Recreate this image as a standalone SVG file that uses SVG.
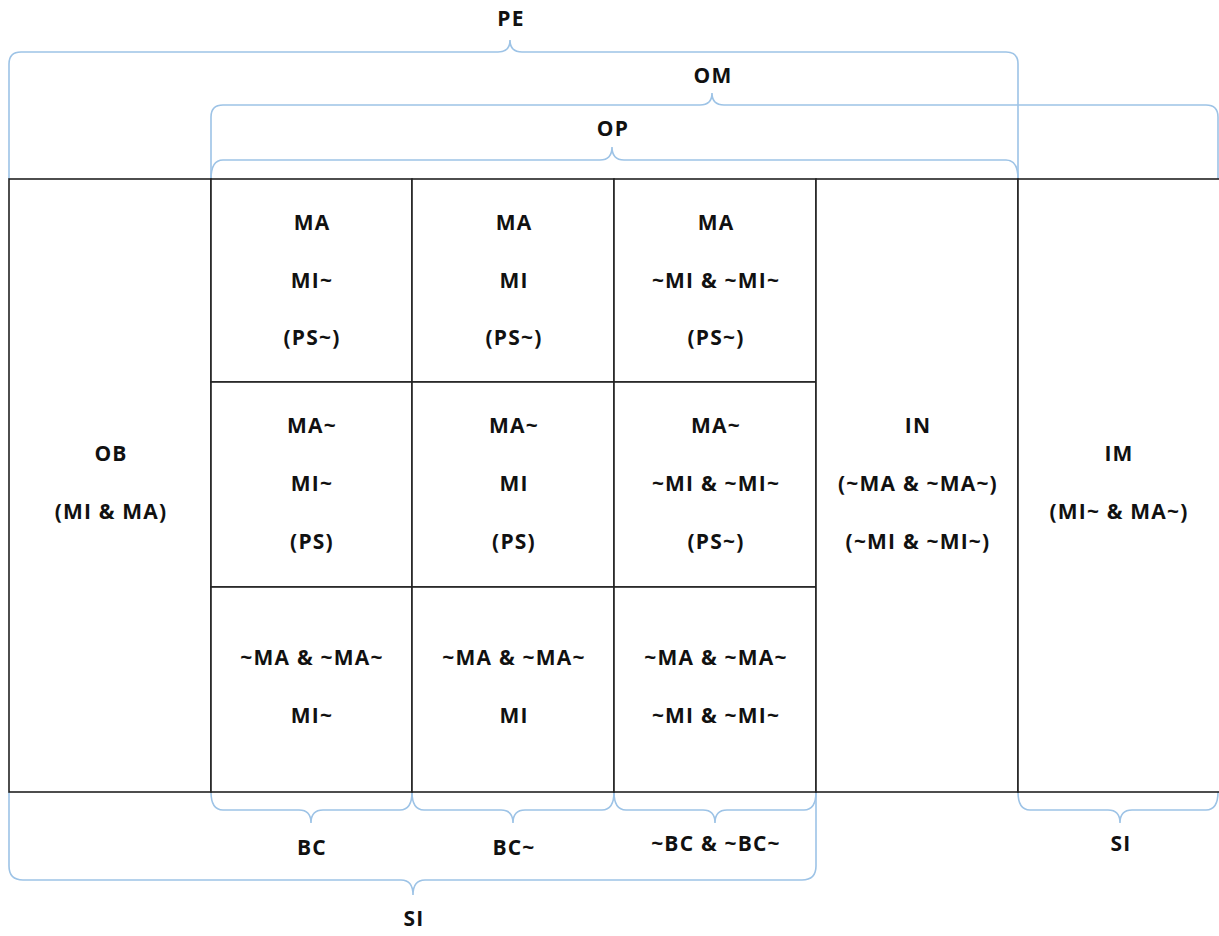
<svg xmlns="http://www.w3.org/2000/svg" width="1219" height="936" viewBox="0 0 1219 936">
  <style>
    .cell { fill: #ffffff; stroke: #222222; stroke-width: 1.6; }
    .brace { fill: none; stroke: #9dc3e6; stroke-width: 1.6; }
    text { font-family: "Open Sans", Lato, "Liberation Sans", sans-serif; font-weight: bold; font-size: 21px; letter-spacing: 1.2px; fill: #111111; text-anchor: middle; dominant-baseline: central; }
  </style>
  <rect width="1219" height="936" fill="#ffffff"/>

  <!-- braces -->
  <g id="connectors">
    <!-- PE (top, outer) -->
    <path class="brace" d="M9 179 L9 64 Q9 52 21 52 L498 52 Q510 52 510 40 Q510 52 522 52 L1006 52 Q1018 52 1018 64 L1018 179"/>
    <!-- OM -->
    <path class="brace" d="M211 179 L211 117 Q211 105 223 105 L700 105 Q712 105 712 93 Q712 105 724 105 L1206 105 Q1218 105 1218 117 L1218 179"/>
    <!-- OP -->
    <path class="brace" d="M211 179 Q211 160 223 160 L600 160 Q612 160 612 147 Q612 160 624 160 L1006 160 Q1018 160 1018 179"/>
    <!-- BC -->
    <path class="brace" d="M211 792 Q211 810 223 810 L299 810 Q311 810 311 823 Q311 810 323 810 L400 810 Q412 810 412 792"/>
    <!-- BC~ -->
    <path class="brace" d="M412 792 Q412 810 424 810 L501 810 Q513 810 513 823 Q513 810 525 810 L602 810 Q614 810 614 792"/>
    <!-- ~BC & ~BC~ -->
    <path class="brace" d="M614 792 Q614 810 626 810 L703 810 Q715 810 715 823 Q715 810 727 810 L804 810 Q816 810 816 792"/>
    <!-- SI (right) -->
    <path class="brace" d="M1018 792 Q1018 810 1030 810 L1108 810 Q1120 810 1120 823 Q1120 810 1132 810 L1206 810 Q1218 810 1218 792"/>
    <!-- SI (bottom, outer) -->
    <path class="brace" d="M9 792 L9 866 Q9 880 23 880 L401 880 Q413 880 413 895 Q413 880 425 880 L802 880 Q816 880 816 866 L816 792"/>
  </g>

  <!-- OB column -->
  <g id="ob">
    <rect class="cell" x="9" y="179" width="202" height="613"/>
    <text x="111" y="453">OB</text>
    <text x="111" y="511">(MI &amp; MA)</text>
  </g>

  <!-- 3x3 grid -->
  <g id="c11">
    <rect class="cell" x="211" y="179" width="201" height="203"/>
    <text x="312" y="222">MA</text>
    <text x="312" y="280">MI~</text>
    <text x="312" y="337">(PS~)</text>
  </g>
  <g id="c12">
    <rect class="cell" x="412" y="179" width="202" height="203"/>
    <text x="514" y="222">MA</text>
    <text x="514" y="280">MI</text>
    <text x="514" y="337">(PS~)</text>
  </g>
  <g id="c13">
    <rect class="cell" x="614" y="179" width="202" height="203"/>
    <text x="716" y="222">MA</text>
    <text x="716" y="280">~MI &amp; ~MI~</text>
    <text x="716" y="337">(PS~)</text>
  </g>
  <g id="c21">
    <rect class="cell" x="211" y="382" width="201" height="205"/>
    <text x="312" y="425">MA~</text>
    <text x="312" y="483">MI~</text>
    <text x="312" y="541">(PS)</text>
  </g>
  <g id="c22">
    <rect class="cell" x="412" y="382" width="202" height="205"/>
    <text x="514" y="425">MA~</text>
    <text x="514" y="483">MI</text>
    <text x="514" y="541">(PS)</text>
  </g>
  <g id="c23">
    <rect class="cell" x="614" y="382" width="202" height="205"/>
    <text x="716" y="425">MA~</text>
    <text x="716" y="483">~MI &amp; ~MI~</text>
    <text x="716" y="541">(PS~)</text>
  </g>
  <g id="c31">
    <rect class="cell" x="211" y="587" width="201" height="205"/>
    <text x="312" y="657">~MA &amp; ~MA~</text>
    <text x="312" y="715">MI~</text>
  </g>
  <g id="c32">
    <rect class="cell" x="412" y="587" width="202" height="205"/>
    <text x="514" y="657">~MA &amp; ~MA~</text>
    <text x="514" y="715">MI</text>
  </g>
  <g id="c33">
    <rect class="cell" x="614" y="587" width="202" height="205"/>
    <text x="716" y="657">~MA &amp; ~MA~</text>
    <text x="716" y="715">~MI &amp; ~MI~</text>
  </g>

  <!-- IN column -->
  <g id="in">
    <rect class="cell" x="816" y="179" width="202" height="613"/>
    <text x="918" y="425">IN</text>
    <text x="918" y="483">(~MA &amp; ~MA~)</text>
    <text x="918" y="541">(~MI &amp; ~MI~)</text>
  </g>

  <!-- IM column -->
  <g id="im">
    <rect class="cell" x="1018" y="179" width="203" height="613"/>
    <text x="1119" y="453">IM</text>
    <text x="1119" y="511">(MI~ &amp; MA~)</text>
  </g>

  <!-- brace labels -->
  <g id="labels">
    <text x="511" y="18">PE</text>
    <text x="713" y="75">OM</text>
    <text x="613" y="128">OP</text>
    <text x="312" y="847">BC</text>
    <text x="514" y="847">BC~</text>
    <text x="716" y="843">~BC &amp; ~BC~</text>
    <text x="1121" y="843">SI</text>
    <text x="414" y="918">SI</text>
  </g>
</svg>
